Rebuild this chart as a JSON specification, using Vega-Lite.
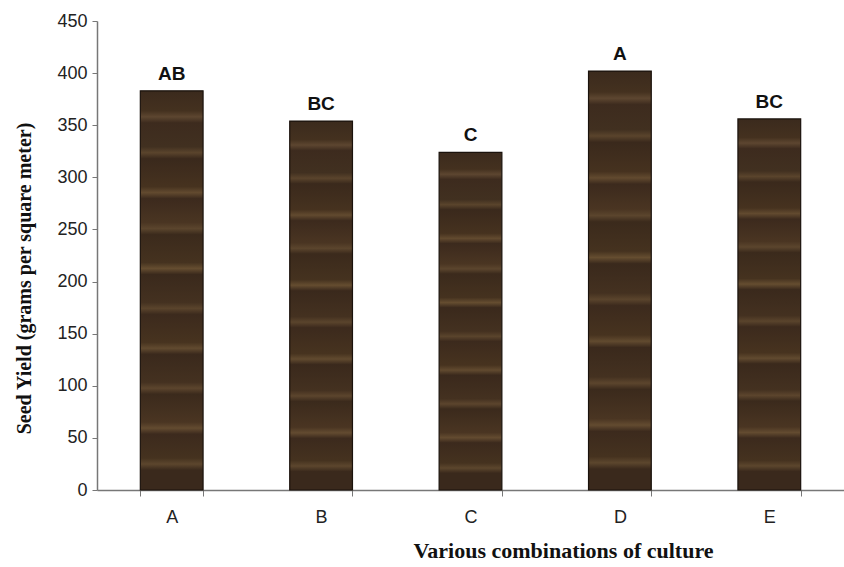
{
  "$schema": "https://vega.github.io/schema/vega-lite/v6.json",
  "autosize": "none",
  "padding": {"left": 97, "top": 21, "right": 0, "bottom": 77},
  "width": 747,
  "height": 469,
  "background": "white",
  "config": {"view": {"stroke": null}},
  "data": {
    "values": [
      {"combo": "A", "yield": 383, "group": "AB"},
      {"combo": "B", "yield": 354, "group": "BC"},
      {"combo": "C", "yield": 324, "group": "C"},
      {"combo": "D", "yield": 402, "group": "A"},
      {"combo": "E", "yield": 356, "group": "BC"}
    ]
  },
  "encoding": {
    "x": {
      "field": "combo",
      "type": "nominal",
      "sort": null,
      "scale": {"paddingInner": 0.58, "paddingOuter": 0.29},
      "axis": {
        "title": "Various combinations of culture",
        "titleFont": "Liberation Serif",
        "titleFontSize": 22,
        "titleFontWeight": "bold",
        "titleColor": "#111111",
        "titlePadding": 14,
        "titleX": 466,
        "titleAlign": "center",
        "labelAngle": 0,
        "labelFont": "Liberation Sans",
        "labelFontSize": 18,
        "labelColor": "#222222",
        "labelPadding": 12,
        "tickBand": "extent",
        "tickSize": 6,
        "tickColor": "#777777",
        "domainColor": "#777777",
        "domainWidth": 1.5
      }
    },
    "y": {
      "field": "yield",
      "type": "quantitative",
      "scale": {"domain": [0, 450], "nice": false},
      "axis": {
        "title": "Seed Yield (grams per square meter)",
        "titleFont": "Liberation Serif",
        "titleFontSize": 20,
        "titleFontWeight": "bold",
        "titleColor": "#111111",
        "titlePadding": 22,
        "titleY": 257,
        "titleAlign": "center",
        "values": [0, 50, 100, 150, 200, 250, 300, 350, 400, 450],
        "grid": false,
        "labelFont": "Liberation Sans",
        "labelFontSize": 18,
        "labelColor": "#222222",
        "labelPadding": 5,
        "tickSize": 5,
        "tickColor": "#777777",
        "domainColor": "#777777",
        "domainWidth": 1.5
      }
    }
  },
  "layer": [
    {
      "mark": {
        "type": "bar",
        "stroke": "#1a120c",
        "strokeWidth": 1.2,
        "color": {
          "gradient": "linear",
          "x1": 0, "y1": 0, "x2": 0, "y2": 1,
          "stops": [
            {"offset": 0.0, "color": "#3b2a1d"},
            {"offset": 0.05, "color": "#44311f"},
            {"offset": 0.065, "color": "#5d4630"},
            {"offset": 0.08, "color": "#3d2b1e"},
            {"offset": 0.14, "color": "#413020"},
            {"offset": 0.155, "color": "#5a442c"},
            {"offset": 0.17, "color": "#3a291c"},
            {"offset": 0.24, "color": "#46321f"},
            {"offset": 0.255, "color": "#624a2f"},
            {"offset": 0.27, "color": "#3c2a1d"},
            {"offset": 0.33, "color": "#4a3522"},
            {"offset": 0.345, "color": "#5b452d"},
            {"offset": 0.36, "color": "#3b2a1c"},
            {"offset": 0.43, "color": "#45321f"},
            {"offset": 0.445, "color": "#654d30"},
            {"offset": 0.46, "color": "#3a291c"},
            {"offset": 0.53, "color": "#443120"},
            {"offset": 0.545, "color": "#5a442c"},
            {"offset": 0.56, "color": "#3c2a1d"},
            {"offset": 0.63, "color": "#47331f"},
            {"offset": 0.645, "color": "#614a2f"},
            {"offset": 0.66, "color": "#3a291c"},
            {"offset": 0.73, "color": "#443120"},
            {"offset": 0.745, "color": "#5c452d"},
            {"offset": 0.76, "color": "#3b2a1c"},
            {"offset": 0.83, "color": "#4a3522"},
            {"offset": 0.845, "color": "#634b30"},
            {"offset": 0.86, "color": "#3c2a1d"},
            {"offset": 0.92, "color": "#45321f"},
            {"offset": 0.935, "color": "#5c462d"},
            {"offset": 0.95, "color": "#3a291c"},
            {"offset": 1.0, "color": "#3a291c"}
          ]
        }
      }
    },
    {
      "mark": {
        "type": "text",
        "dy": -17,
        "font": "Liberation Sans",
        "fontSize": 19,
        "fontWeight": "bold",
        "color": "#111111"
      },
      "encoding": {"text": {"field": "group"}}
    }
  ]
}
